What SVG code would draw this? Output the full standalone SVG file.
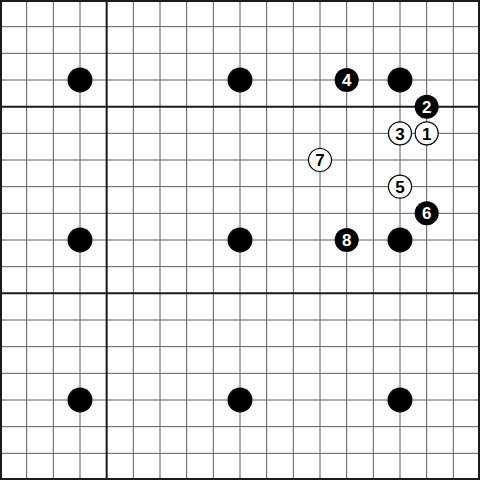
<svg xmlns="http://www.w3.org/2000/svg" width="480" height="480" viewBox="0 0 480 480">
<style>
.g{stroke:#5a5a5a;stroke-width:1;fill:none}
.k{stroke:#1a1a1a;stroke-width:2;fill:none}
.b{fill:#000}
.w{fill:#fff;stroke:#000;stroke-width:1.2}
.tb{fill:#fff;font-family:"Liberation Sans",Arial,sans-serif;font-weight:bold;font-size:17px;text-anchor:middle}
.tw{fill:#000;font-family:"Liberation Sans",Arial,sans-serif;font-weight:bold;font-size:17px;text-anchor:middle}
</style>
<rect width="480" height="480" fill="#fff"/>
<g id="grid">
<path class="g" d="M26.67 0V480M53.33 0V480M80 0V480M133.33 0V480M160 0V480M186.67 0V480M213.33 0V480M240 0V480M266.67 0V480M293.33 0V480M320 0V480M346.67 0V480M373.33 0V480M400 0V480M426.67 0V480M453.33 0V480"/>
<path class="g" d="M0 26.67H480M0 53.33H480M0 80H480M0 133.33H480M0 160H480M0 186.67H480M0 213.33H480M0 240H480M0 266.67H480M0 320H480M0 346.67H480M0 373.33H480M0 400H480M0 426.67H480M0 453.33H480"/>
<path class="k" d="M106.67 0V480M0 106.67H480M0 293.33H480"/>
<rect class="k" x="1" y="1" width="478" height="478"/>
</g>
<g id="hoshi">
<circle class="b" cx="80" cy="80" r="12.5"/>
<circle class="b" cx="240" cy="80" r="12.5"/>
<circle class="b" cx="400" cy="80" r="12.5"/>
<circle class="b" cx="80" cy="240" r="12.5"/>
<circle class="b" cx="240" cy="240" r="12.5"/>
<circle class="b" cx="400" cy="240" r="12.5"/>
<circle class="b" cx="80" cy="400" r="12.5"/>
<circle class="b" cx="240" cy="400" r="12.5"/>
<circle class="b" cx="400" cy="400" r="12.5"/>
</g>
<g id="m1"><circle class="w" cx="426.67" cy="133.33" r="11.5"/><text class="tw" x="426.67" y="139.5">1</text></g>
<g id="m2"><circle class="b" cx="426.67" cy="106.67" r="12"/><text class="tb" x="426.67" y="112.8">2</text></g>
<g id="m3"><circle class="w" cx="400" cy="133.33" r="11.5"/><text class="tw" x="400" y="139.5">3</text></g>
<g id="m4"><circle class="b" cx="346.67" cy="80" r="12"/><text class="tb" x="346.67" y="86.1">4</text></g>
<g id="m5"><circle class="w" cx="400" cy="186.67" r="11.5"/><text class="tw" x="400" y="192.8">5</text></g>
<g id="m6"><circle class="b" cx="426.67" cy="213.33" r="12"/><text class="tb" x="426.67" y="219.4">6</text></g>
<g id="m7"><circle class="w" cx="320" cy="160" r="11.5"/><text class="tw" x="320" y="166.1">7</text></g>
<g id="m8"><circle class="b" cx="346.67" cy="240" r="12"/><text class="tb" x="346.67" y="246.1">8</text></g>
</svg>
